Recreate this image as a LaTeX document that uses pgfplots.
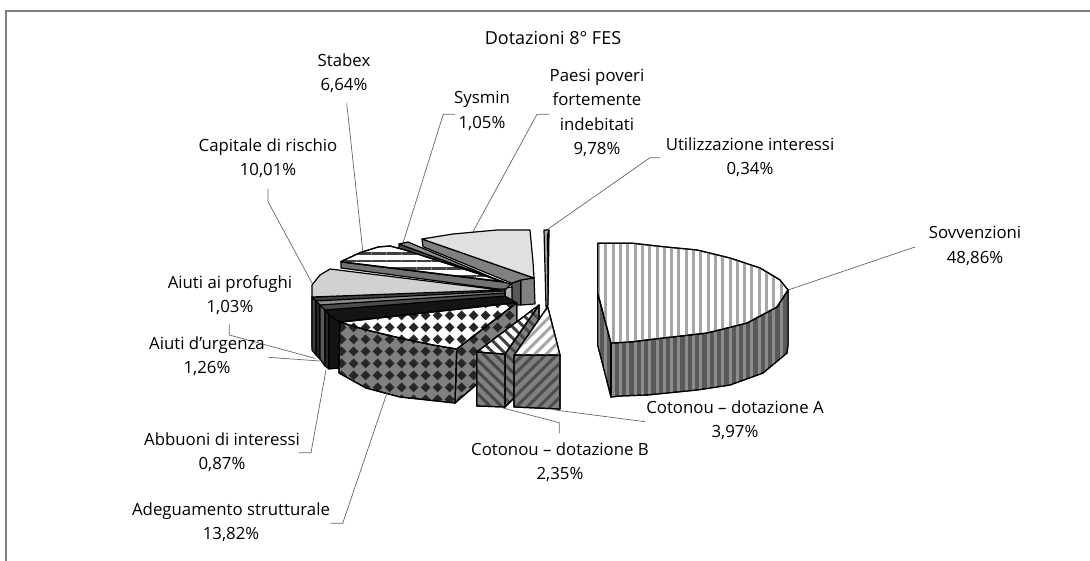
\documentclass[border=0pt]{standalone}
\usepackage{fontspec}
\setmainfont{Open Sans}
\usepackage{pgfplots}
\pgfplotsset{compat=1.18}
\usetikzlibrary{patterns,patterns.meta}

\pgfdeclarepatternformonly{checkdiamonds}{\pgfqpoint{0pt}{0pt}}{\pgfqpoint{12pt}{12pt}}{\pgfqpoint{12pt}{12pt}}{%
  \pgfpathmoveto{\pgfqpoint{6pt}{0.8pt}}
  \pgfpathlineto{\pgfqpoint{11.2pt}{6pt}}
  \pgfpathlineto{\pgfqpoint{6pt}{11.2pt}}
  \pgfpathlineto{\pgfqpoint{0.8pt}{6pt}}
  \pgfpathclose
  \pgfusepath{fill}
}

\tikzset{
  edge/.style={draw=black,line width=1.2pt,line join=round},
  solid slice/.style={edge,fill=#1},
  lines slice/.style n args={5}{edge,preaction={fill=#1},
    pattern={Lines[angle=#2,distance=#3,line width=#5]},pattern color=#4},
  diamond slice/.style={edge,preaction={fill=#1},pattern=checkdiamonds,pattern color=black!85},
  leader/.style={draw=black!60,line width=0.7pt},
  lab/.style={font=\fontsize{16.8}{24.5}\selectfont,align=center,text=black,inner sep=0pt},
}

\begin{document}
\begin{tikzpicture}
\path[use as bounding box] (0,0) rectangle (1090pt,561pt);
\begin{axis}[
  at={(0pt,0pt)},
  scale only axis,
  width=1090pt, height=561pt,
  xmin=0, xmax=1090, ymin=0, ymax=561,
  y dir=reverse,
  hide axis,
  clip=true,
  no markers,
]
% frame
\addplot[draw=black!50,line width=1.4pt] coordinates {(6,561) (6,11) (1090,11)};

% leader lines
\addplot[leader] coordinates {(788,290) (915,247)};
\addplot[leader] coordinates {(346.7,103.3) (363,253)};
\addplot[leader] coordinates {(455,114.3) (443.3,114.3) (403,243)};
\addplot[leader] coordinates {(549,114.3) (537,114.3) (473,231.7)};
\addplot[leader] coordinates {(660,157.7) (650,157.7) (546.7,230)};
\addplot[leader] coordinates {(268,189) (268,201.7) (312,283)};

% utilizzazione interessi
\addplot[solid slice=black!35] coordinates {(544,230) (549,230) (548,305) (546,307)} --cycle;
\addplot[fill=black,draw=black] coordinates {(547,235) (549,230) (548,305)} --cycle;

% paesi poveri
\addplot[solid slice=black!50] coordinates {(520.7,280) (534,277) (535,304) (520.7,305)} --cycle;
\addplot[solid slice=black!65] coordinates {(511.7,283) (520.7,280) (520.7,305) (511.7,305)} --cycle;
\addplot[solid slice=black!50] coordinates {(422,239) (534,278) (520.7,280) (511.7,283.3) (423,246.7)} --cycle;
\addplot[solid slice=black!12] coordinates {(422,239) (453,234) (497,230) (530,230) (533,262) (534,278)} --cycle;

% sysmin
\addplot[solid slice=black!70] coordinates {(399,244) (505,283) (509,288) (399,250)} --cycle;
\addplot[solid slice=black!45] coordinates {(399,244) (408,242) (505,283)} --cycle;

% stabex
\addplot[solid slice=black!30] coordinates {(503,288) (512,287) (512,305) (503,305)} --cycle;
\addplot[solid slice=black!55] coordinates {(341,262) (503,282) (511,284) (505,290) (341,268)} --cycle;
\addplot[lines slice={white}{0}{7.5pt}{black!75}{2.2pt}] coordinates {(340.7,261.7) (360,252.7) (378,247) (390,246) (405,250) (503,281.7)} --cycle;

% capitale di rischio and the thin slices under it
\addplot[solid slice=black!75] coordinates {(312,297) (505,289) (505,300) (312,347)} --cycle;
\addplot[solid slice=black!45] coordinates {(316,301) (505,291) (505,296) (316,306)} --cycle;
\addplot[solid slice=black!70] coordinates {(320,305) (505,293) (505,298) (320,311)} --cycle;
\addplot[solid slice=black!92] coordinates {(325,310) (505,296) (517,303) (340,322) (327,330)} --cycle;
\addplot[solid slice=black!18] coordinates {(312,285) (320,275) (330,269) (500,290) (312,297)} --cycle;

% rim at the left
\addplot[solid slice=black!75] coordinates {(312,297) (316,301) (316,355) (312,350)} --cycle;
\addplot[solid slice=black!85] coordinates {(316,301) (320,305) (320,359) (316,355)} --cycle;
\addplot[solid slice=black!65] coordinates {(320,305) (325,310) (325,366) (320,359)} --cycle;
\addplot[solid slice=black!85] coordinates {(325,310) (329,315) (329,369) (325,366)} --cycle;
\addplot[solid slice=black!92] coordinates {(329,315) (340,322) (339,368) (329,369)} --cycle;

% adeguamento strutturale
\addplot[diamond slice=black!50] coordinates {(456.7,349) (516.7,303) (516.7,350) (455,403)} --cycle;
\addplot[diamond slice=black!50] coordinates {(340,322.3) (366.7,330) (400,338) (433,345) (456.7,349) (455,403) (400,397) (366,388) (339,373)} --cycle;
\addplot[diamond slice=white] coordinates {(340,322.3) (516.7,302.7) (456.7,349) (433,345) (400,338) (366.7,330)} --cycle;

% cotonou B
\addplot[lines slice={black!50}{135}{8pt}{black!72}{3pt}] coordinates {(505,354) (539,305) (539,345) (513,399) (505,407)} --cycle;
\addplot[lines slice={black!50}{-45}{8pt}{black!72}{3pt}] coordinates {(476.7,352) (505,354) (505,407) (476.7,406)} --cycle;
\addplot[lines slice={white}{-45}{8pt}{black!75}{3pt}] coordinates {(539,305) (476.7,352) (505,354)} --cycle;

% cotonou A
\addplot[lines slice={black!50}{45}{8pt}{black!70}{3pt}] coordinates {(514,355) (560,355) (560,409) (514,407)} --cycle;
\addplot[lines slice={white}{45}{8pt}{black!35}{3pt}] coordinates {(547.7,306.7) (560,355) (514.3,355)} --cycle;

% sovvenzioni
\addplot[lines slice={black!65}{90}{7.3pt}{black!45}{3pt}] coordinates {(597.7,293) (611,343) (611,397) (597.7,345)} --cycle;
\addplot[lines slice={black!65}{90}{7.3pt}{black!45}{3pt}] coordinates {(788,290) (777,307) (747,323) (707,333) (663,338) (630,342) (611,343) (611,397) (620,396) (647,395) (697,390) (730,385) (763,373) (787,353) (788,345)} --cycle;
\addplot[lines slice={white}{90}{7.3pt}{black!35}{3pt}] coordinates {(597.7,243.3) (633,243.3) (663,246.7) (697,250) (730,258) (760,268) (780,280) (788,290) (777,307) (747,323) (707,333) (663,338) (630,342) (611,343) (597.7,293)} --cycle;

% lower leaders
\addplot[leader] coordinates {(503,408) (559.3,422.7) (559.3,433.3)};
\addplot[leader] coordinates {(555,410) (645,421.7)};
\addplot[leader] coordinates {(388,390) (342.7,523.3) (330.7,523.3)};
\addplot[leader] coordinates {(326,370) (311,452.7) (299,452.7)};
\addplot[leader] coordinates {(320,361) (268.3,357.3)};
\addplot[leader] coordinates {(315,358.3) (229.3,335) (229.3,324.3)};

% labels
\node[lab] at (axis cs:553,38) {\fontsize{18}{24}\selectfont Dotazioni 8° FES};
\node[lab] at (axis cs:344,73) {Stabex\\6,64\%};
\node[lab] at (axis cs:482,111) {Sysmin\\1,05\%};
\node[lab] at (axis cs:597,113) {Paesi poveri\\fortemente\\indebitati\\9,78\%};
\node[lab] at (axis cs:750,157) {Utilizzazione interessi\\0,34\%};
\node[lab] at (axis cs:268,158) {Capitale di rischio\\10,01\%};
\node[lab] at (axis cs:975,246) {Sovvenzioni\\48,86\%};
\node[lab] at (axis cs:230,295) {Aiuti ai profughi\\1,03\%};
\node[lab] at (axis cs:207,356) {Aiuti d'urgenza\\1,26\%};
\node[lab] at (axis cs:222,452) {Abbuoni di interessi\\0,87\%};
\node[lab] at (axis cs:231,522) {Adeguamento strutturale\\13,82\%};
\node[lab] at (axis cs:560,462) {Cotonou – dotazione B\\2,35\%};
\node[lab] at (axis cs:735,420) {Cotonou – dotazione A\\3,97\%};
\end{axis}
\end{tikzpicture}
\end{document}
